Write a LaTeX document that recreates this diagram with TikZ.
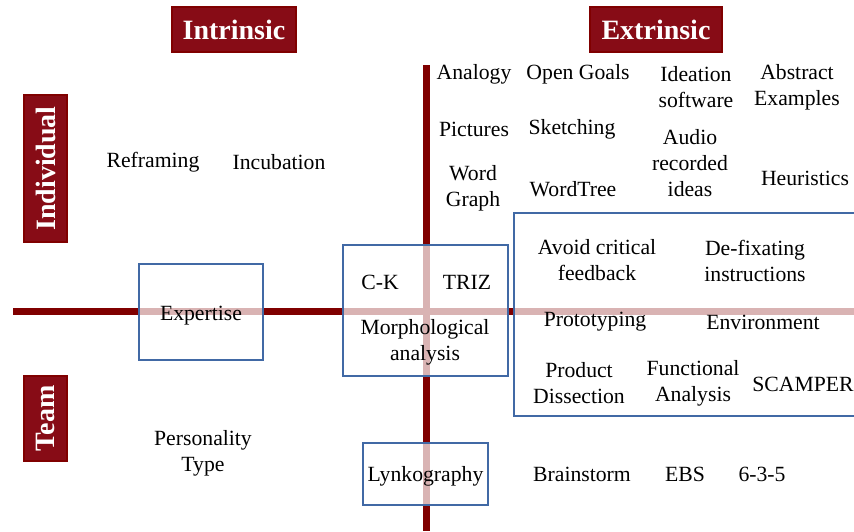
\documentclass[tikz,border=0pt]{standalone}
\usepackage{fontspec}
\setmainfont{Liberation Serif}
\usepackage{xcolor}
\definecolor{axisred}{RGB}{128,0,0}
\definecolor{tagred}{RGB}{135,12,22}
\definecolor{boxblue}{RGB}{65,105,165}

\begin{document}
\begin{tikzpicture}[x=0.5pt,y=-0.5pt,font=\fontsize{10.85}{13}\selectfont,
  axis/.style={axisred,line width=3.5pt},
  tag/.style={fill=tagred,draw=red!50!black,line width=0.8pt,text=white,inner sep=0pt,
    font=\fontsize{14}{16}\selectfont\bfseries},
  grp/.style={draw=boxblue,line width=1pt,fill=white,fill opacity=0.7,inner sep=0pt},
  item/.style={align=center,inner sep=1pt,yshift=-1pt}]
\useasboundingbox (0,0) rectangle (854,531);
% axes
\coordinate (hl) at (13,311);
\coordinate (hr) at (854,311);
\coordinate (vt) at (426,65);
\coordinate (vb) at (426,531);
\draw[axis] (hl) -- (hr);
\draw[axis] (vt) -- (vb);
% headings
\node[tag,minimum width=62pt,minimum height=22.5pt] (intr) at (234,29.5) {Intrinsic};
\node[tag,minimum width=66pt,minimum height=22.5pt] (extr) at (656,29.5) {Extrinsic};
\node[tag,rotate=90,minimum width=73.5pt,minimum height=21.5pt] (indiv) at (45.5,168.5) {Individual};
\node[tag,rotate=90,minimum width=42.5pt,minimum height=21.5pt] (team) at (45.5,418.5) {Team};
% boxes
\node[grp,minimum width=62pt,minimum height=48pt] (expbox) at (201,312) {};
\node[grp,minimum width=82.5pt,minimum height=65.5pt] (ckbox) at (425.5,310.5) {};
\node[grp,minimum width=173pt,minimum height=101.5pt] (bigbox) at (687,314.5) {};
\node[grp,minimum width=62.5pt,minimum height=31pt] (lynkbox) at (425.5,474) {};
% intrinsic items
\node[item] (refr) at (153,160) {Reframing};
\node[item] (incub) at (279,160) {Incubation};
\node[item] (expert) at (201,314) {Expertise};
\node[item] (pers) at (203,451) {Personality\\Type};
% middle items
\node[item] (ck) at (380,280) {C-K};
\node[item] (triz) at (467,280) {TRIZ};
\node[item] (morph) at (425,340) {Morphological\\analysis};
\node[item] (lynk) at (425.5,474) {Lynkography};
% extrinsic, individual
\node[item] (anal) at (474,72) {Analogy};
\node[item] (goals) at (578,72) {Open Goals};
\node[item] (ideat) at (696,85) {Ideation\\software};
\node[item] (abstr) at (797,85) {Abstract\\Examples};
\node[item] (pict) at (474,127) {Pictures};
\node[item] (sketch) at (572,127) {Sketching};
\node[item] (audio) at (690,161) {Audio\\recorded\\ideas};
\node[item] (wgraph) at (473,186.5) {Word\\Graph};
\node[item] (wtree) at (573,187) {WordTree};
\node[item] (heur) at (805,176) {Heuristics};
% extrinsic, both
\node[item] (avoid) at (597,258.5) {Avoid critical\\feedback};
\node[item] (defix) at (755,258.5) {De-fixating\\instructions};
\node[item] (proto) at (595,320) {Prototyping};
\node[item] (envir) at (763,320) {Environment};
\node[item] (dissect) at (579,381.5) {Product\\Dissection};
\node[item] (funct) at (693,381.5) {Functional\\Analysis};
\node[item] (scamp) at (803,382) {SCAMPER};
% extrinsic, team
\node[item] (brain) at (582,472) {Brainstorm};
\node[item] (ebs) at (685,472) {EBS};
\node[item] (six) at (762,472) {6-3-5};
\end{tikzpicture}
\end{document}
